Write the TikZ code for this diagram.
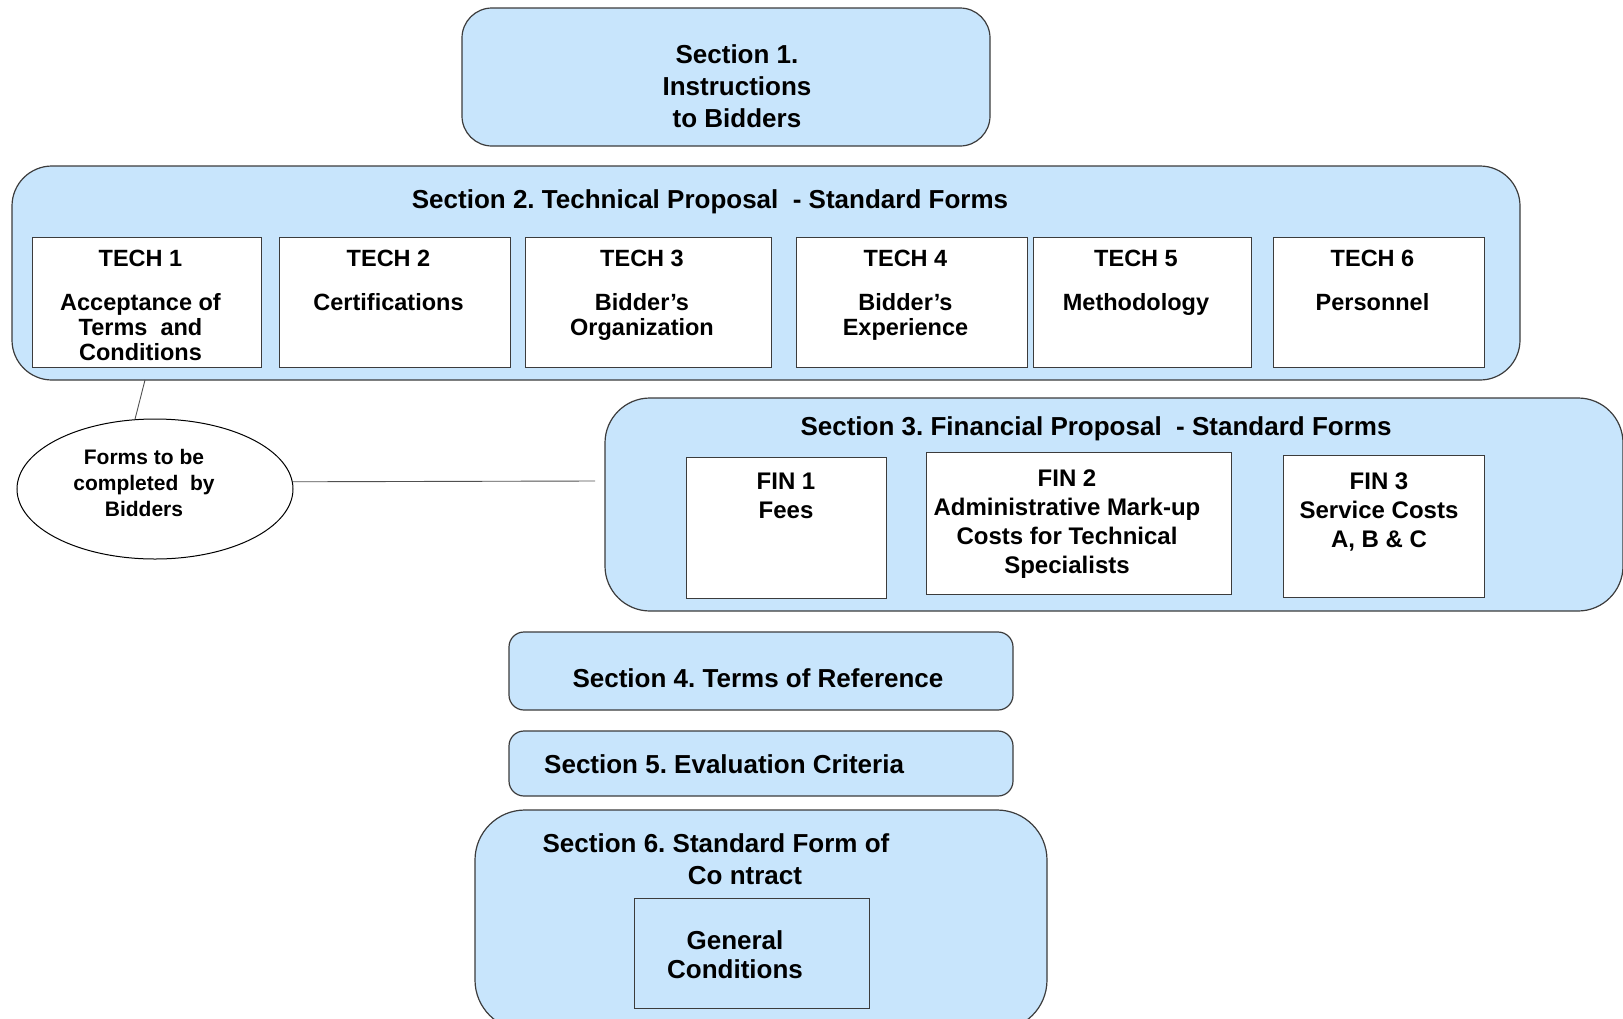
\documentclass[tikz,border=0pt]{standalone}
\usepackage{fontspec}
\setmainfont{Liberation Sans}
\usepackage{tikz}
\usetikzlibrary{shapes.geometric}
\definecolor{skyfill}{HTML}{C8E5FC}
\definecolor{rim}{HTML}{3C3C3C}
\definecolor{wire}{HTML}{505050}
\tikzset{sec/.style={draw=rim,line width=1.2pt,fill=skyfill,rounded corners=#1,inner sep=0pt},
  sec/.default=40pt,
  frm/.style={draw=rim,line width=1pt,fill=white,inner sep=0pt},
  ttl/.style={font=\bfseries\fontsize{26}{32}\selectfont,align=center,inner sep=0pt},
  tch/.style={font=\bfseries\fontsize{23.5}{25}\selectfont,align=center,inner sep=0pt,anchor=north},
  fin/.style={font=\bfseries\fontsize{24}{29}\selectfont,align=center,inner sep=0pt,anchor=north},
  conn/.style={draw=wire,line width=0.9pt}}
\frenchspacing

\begin{document}
\begin{tikzpicture}[x=1pt,y=-1pt]
\useasboundingbox (0,0) rectangle (1623,1018);
\node[sec=30pt,minimum width=528pt,minimum height=138pt] (s1) at (726,77) {};
\node[ttl] (s1t) at (737,86) {Section 1.\\Instructions\\to Bidders};
\node[sec=40pt,minimum width=1508pt,minimum height=214pt] (s2) at (766,273) {};
\node[ttl] (s2t) at (710,202) {Section 2. Technical Proposal~ - Standard Forms};
\foreach \n/\a/\b/\txt in {1/32/261/{Acceptance of\\Terms\ \ and\\Conditions},2/279/510/Certifications,
  3/525/771/{Bidder's\\Organization},4/796/1027/{Bidder's\\Experience},5/1033/1251/Methodology,6/1273/1484/Personnel}{%
  \pgfmathsetmacro{\w}{\b-\a}
  \pgfmathsetmacro{\c}{(\a+\b)/2}
  \node[frm,minimum width=\w pt,minimum height=130pt] (t\n) at (\c,302) {};
  \node[tch] (tl\n) at (\c-6,250) {TECH \n\\[19pt]\txt};}
\node[ellipse,draw=black,line width=1pt,fill=white,minimum width=276pt,minimum height=140pt] (forms) at (155,489) {};
\node[font=\bfseries\fontsize{21}{26}\selectfont,align=center,inner sep=0pt] (formst) at (144,483) {Forms to be\\completed\ \ by\\Bidders};
\node[sec=45pt,minimum width=1018pt,minimum height=213pt] (s3) at (1114,504.5) {};
\node[ttl] (s3t) at (1096,429) {Section 3. Financial Proposal~ - Standard Forms};
\node[frm,minimum width=200pt,minimum height=141pt] (f1) at (786,527.5) {};
\node[fin] (fl1) at (786,473) {FIN 1\\Fees};
\node[frm,minimum width=305pt,minimum height=142pt] (f2) at (1078.5,523) {};
\node[fin] (fl2) at (1067,470) {FIN 2\\Administrative Mark-up\\Costs for Technical\\Specialists};
\node[frm,minimum width=201pt,minimum height=142pt] (f3) at (1383.5,526) {};
\node[fin] (fl3) at (1379,473) {FIN 3\\Service Costs\\A, B \& C};
\node[sec=15pt,minimum width=504pt,minimum height=78pt] (s4) at (761,671) {};
\node[ttl] (s4t) at (758,678) {Section 4. Terms of Reference};
\node[sec=15pt,minimum width=504pt,minimum height=65pt] (s5) at (761,763.5) {};
\node[ttl,anchor=west] (s5t) at (544,764) {Section 5. Evaluation Criteria};
\node[sec=50pt,minimum width=572pt,minimum height=220pt] (s6) at (761,920) {};
\node[ttl] (s6t) at (716,859) {Section 6. Standard Form of\\\hspace*{58pt}Co ntract};
\node[frm,fill=skyfill,minimum width=235pt,minimum height=110pt] (gc) at (751.5,953) {};
\node[ttl,font=\bfseries\fontsize{26}{29}\selectfont] (gct) at (735,954.5) {General\\Conditions};
\coordinate (c2) at (145,380);
\coordinate (c3) at (595,481);
\draw[conn] (forms.106) -- (c2);
\draw[conn] (forms.3) -- (c3);
\end{tikzpicture}
\end{document}
